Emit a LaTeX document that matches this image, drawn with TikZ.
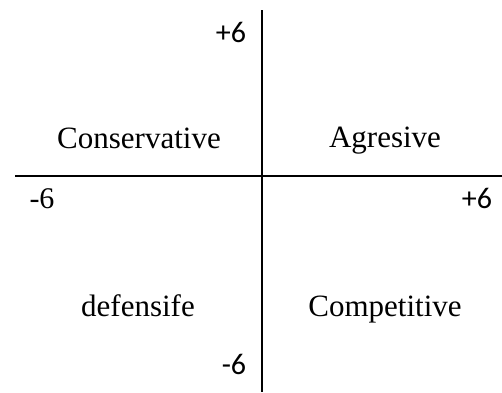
\documentclass[tikz,border=0pt]{standalone}
\usepackage{fontspec}
\setmainfont{Liberation Serif}
\newfontfamily\numfont{Carlito}

\begin{document}
\begin{tikzpicture}[x=1pt, y=-1pt, line cap=butt]
    \tikzset{quad/.style={font=\fontsize{31}{36}\selectfont, inner sep=0pt, anchor=base},
             tick/.style={font=\numfont\fontsize{30}{36}\selectfont, inner sep=0pt}}
    \useasboundingbox (0,0) rectangle (502,392);
    % --- ejes
    \coordinate (top) at (262,10);
    \coordinate (bot) at (262,392);
    \coordinate (lft) at (15,176);
    \coordinate (rgt) at (502,176);
    \draw[line width=2pt] (top) -- (bot);
    \draw[line width=2pt] (lft) -- (rgt);
    % --- valores extremos
    \node[tick] (ytop) at (231,32)  {+6};
    \node[tick] (ybot) at (234,364) {-6};
    \node[tick, font=\fontsize{30}{36}\selectfont] (xlft) at (42,199) {-6};
    \node[tick] (xrgt) at (477,198) {+6};
    % --- cuadrantes
    \node[quad] (cons) at (139,148) {Conservative};
    \node[quad] (agre) at (385,147) {Agresive};
    \node[quad] (defe) at (138,316) {defensife};
    \node[quad] (comp) at (385,316) {Competitive};
\end{tikzpicture}
\end{document}
